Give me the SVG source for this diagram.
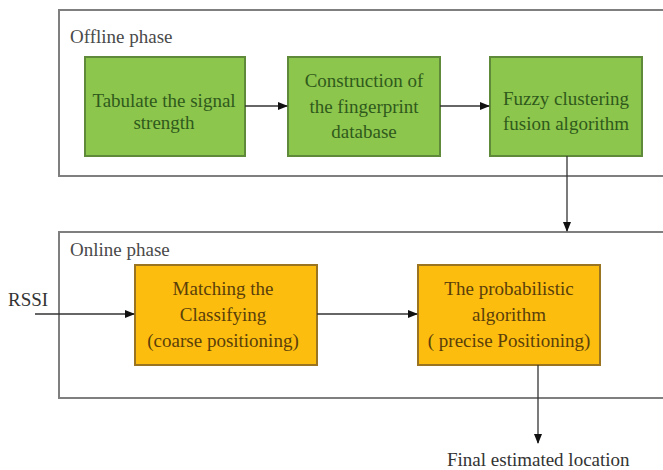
<svg xmlns="http://www.w3.org/2000/svg" width="663" height="470" viewBox="0 0 663 470">
<style>
.phase{fill:none;stroke:#7f7f7f;stroke-width:2}
.g{fill:#8dc64c;stroke:#5f8a3a;stroke-width:2}
.o{fill:#fdbd0f;stroke:#9a7420;stroke-width:2}
.gt{fill:#2f5a1c;text-anchor:middle}
.ot{fill:#5a3f0a;text-anchor:middle}
.lbl{fill:#4a4a4a}
.conn line{stroke:#333;stroke-width:1.3;fill:none}
</style>
<defs>
<marker id="ah" markerWidth="10" markerHeight="8" refX="9" refY="4" orient="auto" markerUnits="userSpaceOnUse">
<path d="M0,0 L10,4 L0,8 Z" fill="#111"/>
</marker>
</defs>
<rect width="663" height="470" fill="#fff"/>
<g font-family="Liberation Serif, serif" font-size="19">
<g id="offline">
<rect class="phase" x="59" y="10" width="610" height="166"/>
<text class="lbl" x="70" y="43">Offline phase</text>
</g>
<g id="online">
<rect class="phase" x="59" y="232" width="610" height="166"/>
<text class="lbl" x="70" y="256">Online phase</text>
</g>
<g id="tabulate">
<rect class="g" x="85" y="57" width="160" height="99"/>
<text class="gt" x="164" y="107">Tabulate the signal</text>
<text class="gt" x="164" y="129">strength</text>
</g>
<g id="construction">
<rect class="g" x="288" y="57" width="152" height="99"/>
<text class="gt" x="364" y="87">Construction of</text>
<text class="gt" x="364" y="113">the fingerprint</text>
<text class="gt" x="364" y="138">database</text>
</g>
<g id="fuzzy">
<rect class="g" x="490" y="57" width="152" height="99"/>
<text class="gt" x="566" y="105">Fuzzy clustering</text>
<text class="gt" x="566" y="130">fusion algorithm</text>
</g>
<g id="matching">
<rect class="o" x="135" y="265" width="182" height="100"/>
<text class="ot" x="223" y="295">Matching the</text>
<text class="ot" x="223" y="321">Classifying</text>
<text class="ot" x="223" y="347">(coarse positioning)</text>
</g>
<g id="probabilistic">
<rect class="o" x="418" y="265" width="182" height="100"/>
<text class="ot" x="509" y="295">The probabilistic</text>
<text class="ot" x="509" y="321">algorithm</text>
<text class="ot" x="509" y="347">( precise Positioning)</text>
</g>
<g id="rssi">
<text x="8" y="306" fill="#333">RSSI</text>
</g>
<g id="final">
<text x="447" y="466" fill="#333">Final estimated location</text>
</g>
</g>
<g class="conn" id="connectors">
<line x1="245" y1="106" x2="287" y2="106" marker-end="url(#ah)"/>
<line x1="440" y1="106" x2="489" y2="106" marker-end="url(#ah)"/>
<line x1="567" y1="156" x2="567" y2="231" marker-end="url(#ah)"/>
<line x1="35" y1="314" x2="134" y2="314" marker-end="url(#ah)"/>
<line x1="317" y1="314" x2="417" y2="314" marker-end="url(#ah)"/>
<line x1="538" y1="365" x2="538" y2="443" marker-end="url(#ah)"/>
</g>
</svg>
